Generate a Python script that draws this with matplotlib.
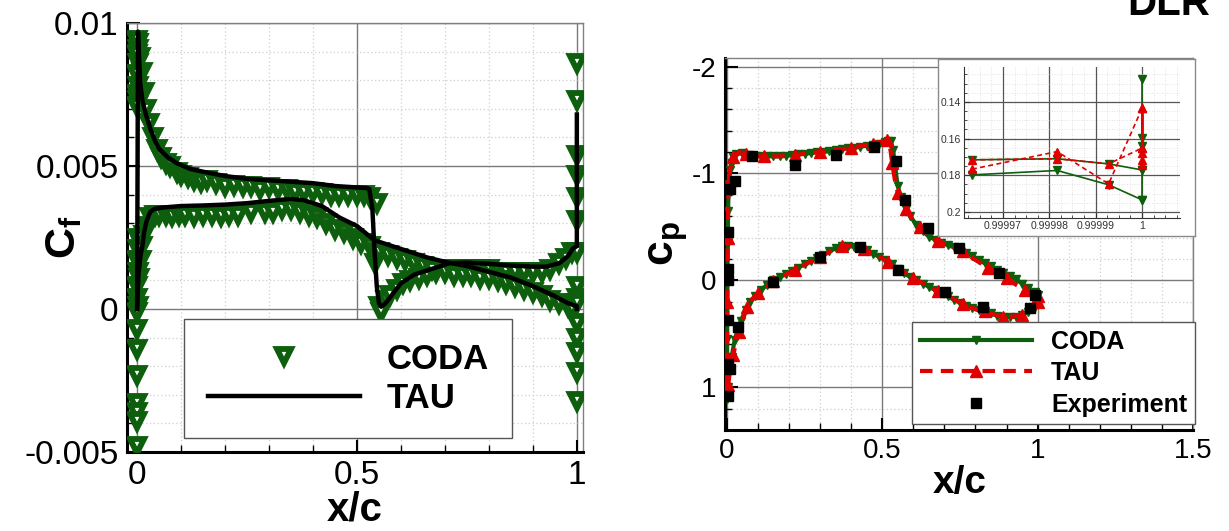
import matplotlib
matplotlib.use("Agg")
import matplotlib.pyplot as plt
from matplotlib.ticker import MultipleLocator, FixedLocator, NullFormatter
from matplotlib.lines import Line2D

plt.rcParams['font.family'] = ['Liberation Sans', 'DejaVu Sans']
plt.rcParams['mathtext.fontset'] = 'custom'
plt.rcParams['mathtext.rm'] = 'Liberation Sans'
plt.rcParams['mathtext.bf'] = 'Liberation Sans:bold'

# ---------------- data: skin friction (left) ----------------
tau_cf_up_x = [0.0, 0.002, 0.004, 0.007, 0.012, 0.02, 0.03, 0.04, 0.05, 0.07, 0.09, 0.12, 0.15, 0.2, 0.25,
               0.3, 0.35, 0.4, 0.45, 0.5, 0.52, 0.528, 0.535, 0.54, 0.545, 0.55, 0.555, 0.565, 0.58, 0.6,
               0.63, 0.67, 0.71, 0.75, 0.8, 0.85, 0.9, 0.93, 0.96, 0.98, 0.99, 1.0, 1.0]
tau_cf_up = [0.0, 0.0097, 0.0090, 0.0079, 0.0073, 0.0068, 0.0063, 0.0059, 0.0056, 0.0053, 0.0051, 0.0049,
             0.0048, 0.00465, 0.00455, 0.0045, 0.00445, 0.0044, 0.0043, 0.00425, 0.00423, 0.0042, 0.0035,
             0.0020, 0.0008, 0.0002, 0.00008, 0.0002, 0.0005, 0.0009, 0.0012, 0.0014, 0.0016, 0.00162,
             0.00158, 0.00152, 0.00148, 0.00148, 0.0016, 0.00185, 0.0021, 0.0022, 0.0068]
tau_cf_lo_x = [0.0, 0.003, 0.008, 0.012, 0.016, 0.022, 0.03, 0.04, 0.06, 0.1, 0.15, 0.2, 0.25, 0.3, 0.35,
               0.38, 0.42, 0.46, 0.5, 0.54, 0.58, 0.62, 0.66, 0.7, 0.75, 0.8, 0.85, 0.9, 0.95, 0.98, 1.0, 1.0]
tau_cf_lo = [0.0, 0.0012, 0.0019, 0.0022, 0.0027, 0.0031, 0.0034, 0.0035, 0.00355, 0.0036, 0.00362,
             0.00365, 0.0037, 0.00378, 0.00385, 0.0038, 0.0036, 0.0032, 0.0029, 0.0024, 0.0022, 0.0020,
             0.0018, 0.00165, 0.0015, 0.0013, 0.0011, 0.0008, 0.00045, 0.0002, 0.0001, 0.0]

coda_cf_up_x = [0.003, 0.006, 0.01, 0.015, 0.02, 0.027, 0.035, 0.045, 0.055, 0.065, 0.075, 0.09, 0.1, 0.115,
                0.13, 0.145, 0.16, 0.18, 0.2, 0.22, 0.24, 0.26, 0.28, 0.3, 0.32, 0.34, 0.36, 0.38, 0.4,
                0.42, 0.44, 0.46, 0.48, 0.5, 0.515, 0.53, 0.545, 0.54, 0.55, 0.555, 0.565, 0.575, 0.59,
                0.605, 0.62, 0.64, 0.66, 0.68, 0.7, 0.72, 0.74, 0.76, 0.78, 0.8, 0.82, 0.84, 0.86, 0.88,
                0.9, 0.92, 0.94, 0.96, 0.975, 0.99]
coda_cf_up = [0.0093, 0.0088, 0.0083, 0.0076, 0.0070, 0.0065, 0.0060, 0.0056, 0.0053, 0.0051, 0.0050,
              0.0048, 0.0047, 0.0046, 0.0045, 0.00445, 0.0045, 0.0044, 0.0043, 0.00435, 0.0043, 0.0043,
              0.0042, 0.00425, 0.0042, 0.0042, 0.0041, 0.0041, 0.0041, 0.00405, 0.0040, 0.0040, 0.0040,
              0.0040, 0.0040, 0.0039, 0.0037, 0.0016, 0.0001, -0.0001, 0.0003, 0.0005, 0.0007, 0.0009,
              0.0010, 0.0011, 0.0012, 0.0013, 0.0014, 0.0014, 0.0014, 0.0014, 0.0014, 0.0014, 0.0013,
              0.0013, 0.0013, 0.0013, 0.0013, 0.0013, 0.0014, 0.0016, 0.0018, 0.0020]
coda_cf_lo_x = [0.004, 0.008, 0.012, 0.016, 0.022, 0.03, 0.04, 0.05, 0.065, 0.08, 0.095, 0.11, 0.13, 0.15,
                0.17, 0.19, 0.21, 0.23, 0.26, 0.29, 0.31, 0.33, 0.35, 0.37, 0.39, 0.41, 0.43, 0.45, 0.47,
                0.49, 0.51, 0.53, 0.55, 0.57, 0.59, 0.61, 0.63, 0.65, 0.67, 0.7, 0.72, 0.74, 0.76, 0.78,
                0.8, 0.82, 0.84, 0.86, 0.88, 0.9, 0.92, 0.94, 0.96, 0.98, 0.99]
coda_cf_lo = [0.0011, 0.0017, 0.0022, 0.0026, 0.0029, 0.0032, 0.0033, 0.0033, 0.0033, 0.00325, 0.0033,
              0.0033, 0.00325, 0.0033, 0.0033, 0.00325, 0.0033, 0.0033, 0.0034, 0.0034, 0.0034, 0.0035,
              0.0035, 0.0034, 0.0033, 0.0032, 0.0030, 0.0028, 0.0027, 0.0025, 0.0023, 0.0022, 0.0020,
              0.0019, 0.0018, 0.0017, 0.0016, 0.0015, 0.0014, 0.0013, 0.0012, 0.0012, 0.0012, 0.0011,
              0.0011, 0.0010, 0.0009, 0.0008, 0.0007, 0.0006, 0.0005, 0.0003, 0.0002, 0.0001, 0.0000]
coda_cf_le_x = [0.0, 0.001, 0.0, 0.002, 0.0, 0.001, 0.0, 0.002, 0.0, 0.001, 0.002, 0.0, 0.001, 0.0, 0.0,
                0.001, 0.0, 0.0, 0.0, 0.0, 0.0, 0.0, 0.0, 0.0]
coda_cf_le = [0.0094, 0.0091, 0.0089, 0.0086, 0.0082, 0.0078, 0.0075, 0.0073, 0.0071, 0.0025, 0.0021,
              0.0017, 0.0013, 0.0008, 0.0004, 0.0001, -0.0001, -0.0007, -0.0014, -0.0023, -0.0033,
              -0.0036, -0.0039, -0.0048]
coda_cf_te_x = [1.0, 1.0, 1.0, 1.0, 1.0, 1.0, 1.0, 1.0, 1.0, 1.0, 1.0, 1.0, 1.0, 1.0, 1.0]
coda_cf_te = [0.0086, 0.0073, 0.0054, 0.0047, 0.0039, 0.0031, 0.0020, 0.0008, 0.0004, 0.0002, -0.0005,
              -0.0010, -0.0015, -0.0022, -0.0032]

cf_xticks = [0, 0.5, 1]
cf_xticklabels = ["0", "0.5", "1"]
cf_yticks = [-0.005, 0, 0.005, 0.01]
cf_yticklabels = ["-0.005", "0", "0.005", "0.01"]

# ---------------- data: pressure coefficient (right) ----------------
tau_cp_x = [1.0, 0.98, 0.95, 0.92, 0.89, 0.86, 0.83, 0.8, 0.76, 0.72, 0.68, 0.64, 0.6, 0.56, 0.52, 0.48,
            0.44, 0.4, 0.37, 0.34, 0.3, 0.26, 0.22, 0.18, 0.15, 0.12, 0.1, 0.08, 0.065, 0.05, 0.04, 0.03,
            0.02, 0.01, 0.004, 0.0, 0.0005, 0.001, 0.0015, 0.002, 0.003, 0.004, 0.006, 0.01, 0.02, 0.04,
            0.06, 0.085, 0.12, 0.17, 0.22, 0.26, 0.3, 0.35, 0.4, 0.435, 0.47, 0.5, 0.515, 0.525, 0.532,
            0.54, 0.55, 0.56, 0.575, 0.59, 0.62, 0.65, 0.68, 0.72, 0.76, 0.8, 0.84, 0.87, 0.9, 0.93, 0.96,
            0.98, 1.0]
tau_cp = [0.2, 0.28, 0.32, 0.34, 0.34, 0.32, 0.29, 0.27, 0.22, 0.16, 0.1, 0.04, -0.02, -0.1, -0.17, -0.24,
          -0.29, -0.32, -0.32, -0.28, -0.22, -0.16, -0.1, -0.04, 0.01, 0.08, 0.12, 0.18, 0.25, 0.38, 0.48,
          0.58, 0.7, 0.85, 0.98, 1.1, 0.8, 0.5, 0.2, -0.1, -0.4, -0.7, -0.92, -1.04, -1.15, -1.2, -1.18,
          -1.16, -1.16, -1.16, -1.17, -1.19, -1.2, -1.22, -1.24, -1.26, -1.28, -1.3, -1.31, -1.25, -1.1,
          -0.95, -0.82, -0.76, -0.67, -0.6, -0.5, -0.42, -0.37, -0.32, -0.27, -0.19, -0.12, -0.08, -0.02,
          0.04, 0.09, 0.12, 0.15]
coda_cp_x = [1.0, 0.99, 0.97, 0.95, 0.93, 0.91, 0.89, 0.87, 0.85, 0.83, 0.81, 0.79, 0.77, 0.75, 0.73,
             0.71, 0.69, 0.67, 0.65, 0.63, 0.61, 0.59, 0.57, 0.55, 0.53, 0.51, 0.49, 0.47, 0.45, 0.43,
             0.41, 0.39, 0.37, 0.35, 0.33, 0.31, 0.29, 0.27, 0.25, 0.23, 0.21, 0.19, 0.17, 0.15, 0.13,
             0.11, 0.09, 0.075, 0.06, 0.045, 0.035, 0.025, 0.015, 0.008, 0.003, 0.0, 0.0005, 0.001,
             0.0015, 0.002, 0.003, 0.004, 0.006, 0.01, 0.015, 0.02, 0.03, 0.05, 0.07, 0.09, 0.11, 0.13,
             0.15, 0.17, 0.19, 0.21, 0.23, 0.25, 0.27, 0.29, 0.31, 0.33, 0.35, 0.37, 0.39, 0.41, 0.43,
             0.45, 0.47, 0.49, 0.51, 0.52, 0.528, 0.535, 0.542, 0.55, 0.56, 0.575, 0.59, 0.61, 0.63,
             0.65, 0.67, 0.69, 0.71, 0.73, 0.75, 0.77, 0.79, 0.81, 0.83, 0.85, 0.87, 0.89, 0.91, 0.93,
             0.95, 0.97, 0.99, 1.0]
coda_cp = [0.2, 0.25, 0.3, 0.32, 0.34, 0.345, 0.34, 0.33, 0.31, 0.29, 0.28, 0.26, 0.24, 0.21, 0.18, 0.15,
           0.12, 0.09, 0.06, 0.03, 0.0, -0.03, -0.07, -0.11, -0.15, -0.19, -0.22, -0.25, -0.28, -0.3,
           -0.315, -0.32, -0.32, -0.3, -0.27, -0.24, -0.21, -0.18, -0.15, -0.12, -0.09, -0.06, -0.03,
           0.0, 0.04, 0.09, 0.15, 0.2, 0.28, 0.38, 0.46, 0.56, 0.72, 0.86, 1.0, 1.11, 0.85, 0.55, 0.25,
           -0.05, -0.35, -0.65, -0.9, -1.03, -1.1, -1.15, -1.18, -1.19, -1.17, -1.16, -1.16, -1.16,
           -1.16, -1.16, -1.165, -1.17, -1.18, -1.185, -1.19, -1.2, -1.2, -1.21, -1.22, -1.23, -1.235,
           -1.24, -1.25, -1.26, -1.27, -1.28, -1.29, -1.3, -1.3, -1.22, -1.05, -0.88, -0.78, -0.67,
           -0.6, -0.52, -0.46, -0.41, -0.38, -0.35, -0.33, -0.31, -0.29, -0.26, -0.23, -0.19, -0.16,
           -0.13, -0.1, -0.07, -0.04, -0.01, 0.03, 0.07, 0.11, 0.14]
exp_cp_x = [0.01, 0.026, 0.08, 0.22, 0.35, 0.475, 0.545, 0.573, 0.648, 0.747, 0.875, 0.993, 0.974, 0.824,
            0.702, 0.55, 0.43, 0.3, 0.15, 0.035, 0.01, 0.003, 0.003, 0.003, 0.003, 0.003, 0.003]
exp_cp = [-0.85, -0.93, -1.16, -1.08, -1.17, -1.25, -1.12, -0.75, -0.49, -0.3, -0.07, 0.14, 0.26, 0.25,
          0.11, -0.1, -0.31, -0.22, 0.02, 0.44, 0.83, 1.08, 0.78, 0.37, 0.0, -0.11, -0.45]

cp_xticks = [0, 0.5, 1, 1.5]
cp_xticklabels = ["0", "0.5", "1", "1.5"]
cp_yticks = [-2, -1, 0, 1]
cp_yticklabels = ["-2", "-1", "0", "1"]

# ---------------- data: trailing-edge inset ----------------
ins_x = [0.9999633, 0.9999817, 0.9999928, 1.0]
ins_coda_a = [0.1716, 0.1710, 0.1738, 0.1771]
ins_coda_b = [0.1798, 0.1774, 0.1852, 0.1934]
ins_coda_te = [0.1275, 0.1598, 0.1640, 0.1771, 0.1934]
ins_tau_a = [0.1716, 0.1710, 0.1738, 0.1652]
ins_tau_b = [0.1767, 0.1671, 0.1847, 0.1436]
ins_tau_te = [0.1436, 0.1652, 0.1680, 0.1716, 0.1745]
ins_xticks = [0.99997, 0.99998, 0.99999, 1.0]
ins_xticklabels = ["0.99997", "0.99998", "0.99999", "1"]
ins_yticks = [0.14, 0.16, 0.18, 0.2]
ins_yticklabels = ["0.14", "0.16", "0.18", "0.2"]

GREEN = '#0d5f0d'
RED = '#e00000'
W, H = 1229, 531


def frac(x0, y0, x1, y1):
    return [x0 / W, 1 - y1 / H, (x1 - x0) / W, (y1 - y0) / H]


def style_axes(ax, fs):
    ax.grid(True, which='major', color='#7a7a7a', lw=1.0, ls='-')
    ax.grid(True, which='minor', color='#cfcfcf', lw=0.9, ls=(0, (1, 2)))
    ax.set_axisbelow(True)
    for s in ['left', 'bottom']:
        ax.spines[s].set_linewidth(2.2)
        ax.spines[s].set_color('black')
    for s in ['top', 'right']:
        ax.spines[s].set_linewidth(1.0)
        ax.spines[s].set_color('#808080')
    ax.tick_params(which='both', direction='in', top=False, right=False, labelsize=fs)
    ax.tick_params(which='major', length=9, width=1.5, pad=6)
    ax.tick_params(which='minor', length=5, width=1.0)


fig = plt.figure(figsize=(W / 100, H / 100), dpi=100)

# ---------------- left: Cf ----------------
MK = dict(ls='none', marker='v', ms=10, mfc='white', mec=GREEN, mew=4.2)
ax1 = fig.add_axes(frac(127, 23, 583, 452))
ax1.plot(coda_cf_up_x, coda_cf_up, zorder=3, **MK)
ax1.plot(coda_cf_lo_x, coda_cf_lo, zorder=3, **MK)
ax1.plot(coda_cf_le_x, coda_cf_le, zorder=3, **MK)
ax1.plot(coda_cf_te_x, coda_cf_te, zorder=3, **MK)
ax1.plot(tau_cf_up_x, tau_cf_up, color='black', lw=3.2, zorder=4, solid_joinstyle='round')
ax1.plot(tau_cf_lo_x, tau_cf_lo, color='black', lw=3.2, zorder=4, solid_joinstyle='round')
ax1.set_xlim(-0.023, 1.014)
ax1.set_ylim(-0.005, 0.01)
ax1.xaxis.set_major_locator(FixedLocator(cf_xticks))
ax1.set_xticklabels(cf_xticklabels)
ax1.yaxis.set_major_locator(FixedLocator(cf_yticks))
ax1.set_yticklabels(cf_yticklabels)
ax1.xaxis.set_minor_locator(MultipleLocator(0.1))
ax1.yaxis.set_minor_locator(MultipleLocator(0.001))
style_axes(ax1, 24)
ax1.set_xlabel('x/c', fontsize=29, fontweight='bold')
ax1.xaxis.set_label_coords(0.5, -0.089)
ax1.set_ylabel(r'$\mathbf{C_f}$', fontsize=31)
ax1.yaxis.set_label_coords(-0.095, 0.5)
h1 = [Line2D([], [], **MK),
      Line2D([], [], color='black', lw=3.2)]
leg1 = ax1.legend(h1, ['CODA', 'TAU'], loc='upper left', bbox_to_anchor=(0.125, 0.31),
                  borderaxespad=0, fancybox=False, edgecolor='#555555', framealpha=1,
                  prop={'size': 25, 'weight': 'bold'}, handlelength=4.4, handletextpad=0.75,
                  labelspacing=0.18, borderpad=0.68)
leg1.get_frame().set_linewidth(1.0)
leg1.set_zorder(10)

# ---------------- right: Cp ----------------
ax2 = fig.add_axes(frac(725, 58, 1193, 430))
ax2.plot(coda_cp_x, coda_cp, color=GREEN, lw=3.0, marker='v', ms=5.5, mfc=GREEN, mec=GREEN, zorder=3,
         solid_joinstyle='round')
ax2.plot(tau_cp_x, tau_cp, color=RED, lw=3.0, ls=(0, (3, 2)), marker='^', ms=8, mfc=RED, mec=RED,
         markevery=2, zorder=4)
ax2.plot(exp_cp_x, exp_cp, ls='none', marker='s', ms=7.5, color='black', zorder=5)
ax2.set_xlim(-0.006, 1.5)
ax2.set_ylim(1.4, -2.08)
ax2.xaxis.set_major_locator(FixedLocator(cp_xticks))
ax2.set_xticklabels(cp_xticklabels)
ax2.yaxis.set_major_locator(FixedLocator(cp_yticks))
ax2.set_yticklabels(cp_yticklabels)
ax2.xaxis.set_minor_locator(MultipleLocator(0.1))
ax2.yaxis.set_minor_locator(MultipleLocator(0.2))
style_axes(ax2, 20)
ax2.set_xlabel('x/c', fontsize=28, fontweight='bold')
ax2.xaxis.set_label_coords(0.502, -0.095)
ax2.set_ylabel(r'$\mathbf{c_p}$', fontsize=32)
ax2.yaxis.set_label_coords(-0.075, 0.5)
h2 = [Line2D([], [], color=GREEN, lw=3.0, marker='v', ms=6, mfc=GREEN, mec=GREEN),
      Line2D([], [], color=RED, lw=3.0, ls=(0, (3, 2)), marker='^', ms=8, mfc=RED, mec=RED),
      Line2D([], [], ls='none', marker='s', ms=7.5, color='black')]
leg2 = ax2.legend(h2, ['CODA', 'TAU', 'Experiment'], loc='upper left', bbox_to_anchor=(0.4, 0.29),
                  borderaxespad=0, fancybox=False, edgecolor='#555555', framealpha=1,
                  prop={'size': 18, 'weight': 'bold'}, handlelength=4.5, handletextpad=0.75,
                  labelspacing=0.3, borderpad=0.3)
leg2.get_frame().set_linewidth(1.0)
leg2.set_zorder(10)

# ---------------- inset ----------------
axf = fig.add_axes(frac(938, 59, 1195, 236))
axf.set_xticks([])
axf.set_yticks([])
axf.set_facecolor('white')
for s in axf.spines.values():
    s.set_color('#8a8a8a')
    s.set_linewidth(1.0)

ax3 = fig.add_axes(frac(964, 67, 1180, 218))
ax3.plot(ins_x, ins_coda_a, color=GREEN, lw=1.2, marker='v', ms=6, zorder=3)
ax3.plot(ins_x, ins_coda_b, color=GREEN, lw=1.2, marker='v', ms=6, zorder=3)
ax3.plot([1.0] * len(ins_coda_te), ins_coda_te, color=GREEN, lw=1.2, marker='v', ms=6, zorder=3)
ax3.plot(ins_x, ins_tau_a, color=RED, lw=1.2, ls=(0, (3, 2)), marker='^', ms=6, zorder=4)
ax3.plot(ins_x, ins_tau_b, color=RED, lw=1.2, ls=(0, (3, 2)), marker='^', ms=6, zorder=4)
ax3.plot([1.0] * len(ins_tau_te), ins_tau_te, color=RED, lw=2.0, marker='^', ms=6, zorder=4)
ax3.set_xlim(0.9999616, 1.0000082)
ax3.set_ylim(0.2033, 0.121)
ax3.xaxis.set_major_locator(FixedLocator(ins_xticks))
ax3.set_xticklabels(ins_xticklabels)
ax3.yaxis.set_major_locator(FixedLocator(ins_yticks))
ax3.set_yticklabels(ins_yticklabels)
ax3.xaxis.set_minor_locator(MultipleLocator(0.0000025))
ax3.yaxis.set_minor_locator(MultipleLocator(0.005))
ax3.xaxis.set_minor_formatter(NullFormatter())
ax3.grid(True, which='major', color='#555555', lw=0.9)
ax3.grid(True, which='minor', color='#d8d8d8', lw=0.6, ls=(0, (1, 2)))
ax3.set_axisbelow(True)
ax3.spines['top'].set_visible(False)
ax3.spines['right'].set_visible(False)
ax3.spines['left'].set_color('#333333')
ax3.spines['bottom'].set_color('#333333')
ax3.tick_params(which='both', direction='in', labelsize=7.5, pad=2, colors='#333333')
ax3.tick_params(which='major', length=4)
ax3.tick_params(which='minor', length=2)

fig.text(1169 / W, 1 - 15 / H, 'DLR', ha='center', va='baseline', fontsize=29, fontweight='bold')

fig.savefig('out.png', dpi=100)
